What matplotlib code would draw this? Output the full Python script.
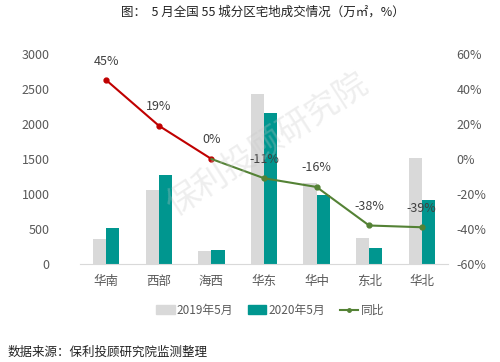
import matplotlib
matplotlib.use("Agg")
import matplotlib.pyplot as plt
import numpy as np
from matplotlib.lines import Line2D
from matplotlib.patches import Patch

plt.rcParams['font.family'] = ['Noto Sans CJK SC', 'DejaVu Sans']

regions = ["华南", "西部", "海西", "华东", "华中", "东北", "华北"]
may2019 = [357, 1050, 190, 2430, 1160, 376, 1514]
may2020 = [514, 1271, 195, 2157, 986, 233, 914]
yoy = [45, 19, 0, -11, -16, -38, -39]

grey = "#D9D9D9"
teal = "#00968F"
red = "#C00000"
green = "#548235"
txt = "#595959"

fig = plt.figure(figsize=(5, 3.62), dpi=100)
ax = fig.add_axes([0.16, 0.2707, 0.736, 0.5803])
x = np.arange(len(regions))
w = 0.25
ax.bar(x - w / 2, may2019, w, color=grey)
ax.bar(x + w / 2, may2020, w, color=teal)
ax.set_xlim(-0.5, len(regions) - 0.5)
ax.set_ylim(0, 3000)
ax.set_yticks(range(0, 3001, 500))
ax.set_xticks(x)
ax.set_xticklabels(regions)
for s in ["top", "right", "left"]:
    ax.spines[s].set_visible(False)
ax.spines["bottom"].set_color(grey)
ax.tick_params(axis="both", length=0, colors=txt, labelsize=9)
ax.tick_params(axis="y", pad=22)
ax.tick_params(axis="x", pad=8)

ax2 = ax.twinx()
ax2.set_ylim(-60, 60)
ax2.set_yticks(range(-60, 61, 20))
ax2.set_yticklabels([f"{v}%" for v in range(-60, 61, 20)])
for s in ["top", "right", "left", "bottom"]:
    ax2.spines[s].set_visible(False)
ax2.tick_params(axis="y", length=0, colors=txt, labelsize=9, pad=6)

ax2.plot(x[:3], yoy[:3], color=red, lw=1.5, marker="o", ms=3.5, zorder=3)
ax2.plot(x[2:], yoy[2:], color=green, lw=1.5, zorder=3)
ax2.plot(x[3:], yoy[3:], ls="none", color=green, marker="o", ms=3.5, zorder=3)
for xi, v in zip(x, yoy):
    ax2.annotate(f"{v}%", (xi, v), xytext=(0, 9), textcoords="offset points",
                 ha="center", va="bottom", fontsize=9, color="#404040")

fig.text(0.525, 0.967, "图：  5 月全国 55 城分区宅地成交情况（万㎡，%）", ha="center",
         va="center", fontsize=9, color="#222222")

fig.text(0.535, 0.6, "保利投顾研究院", ha="center", va="center", fontsize=24,
         rotation=33, color="#C8C8C8", alpha=0.3)

handles = [Patch(color=grey), Patch(color=teal),
           Line2D([], [], color=green, marker="o", ms=2.5, lw=1.5)]
fig.legend(handles, ["2019年5月", "2020年5月", "同比"], loc="center",
           bbox_to_anchor=(0.54, 0.143), ncol=3, frameon=False, fontsize=8.5,
           labelcolor=txt, handlelength=1.6, handleheight=0.7,
           handletextpad=0.2, columnspacing=1.2)

fig.text(0.016, 0.028, "数据来源：保利投顾研究院监测整理", ha="left", va="center",
         fontsize=9, color="#222222")

fig.savefig("out.png", dpi=100)
